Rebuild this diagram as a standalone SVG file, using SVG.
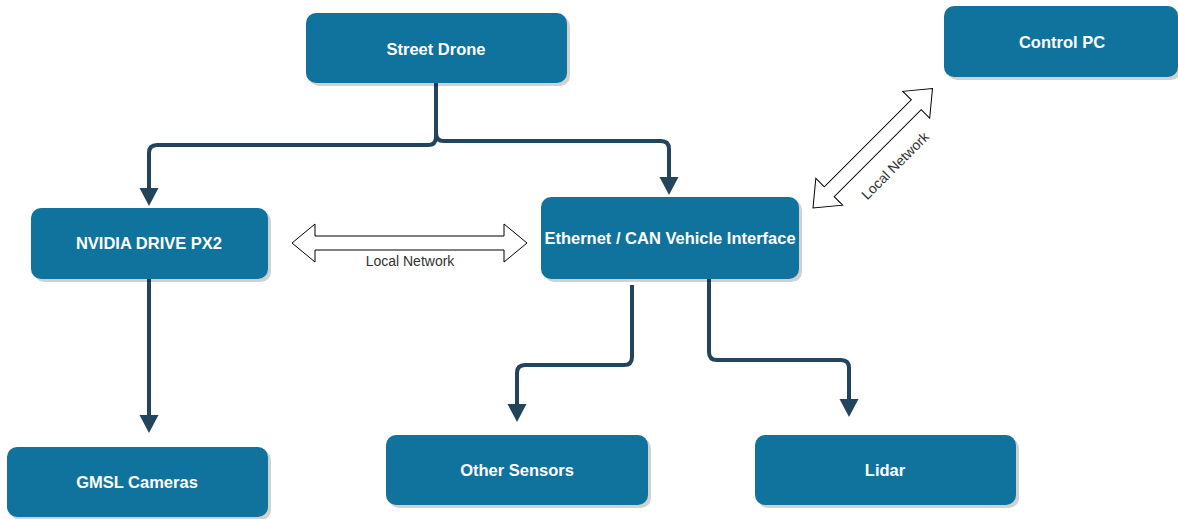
<svg xmlns="http://www.w3.org/2000/svg" width="1178" height="519" viewBox="0 0 1178 519">
<style>
.box{fill:#10739e;}
.shadow{fill:#000;opacity:0.18;}
.lbl{fill:#ffffff;font-family:"Liberation Sans",Arial,sans-serif;font-weight:bold;font-size:16.5px;text-anchor:middle;dominant-baseline:central;}
.conn{fill:none;stroke:#23445d;stroke-width:4;stroke-linejoin:round;marker-end:url(#ah);}
.dbl{fill:#ffffff;stroke:#000;stroke-width:1;}
.net{fill:#333333;font-family:"Liberation Sans",Arial,sans-serif;font-size:14px;text-anchor:middle;}
</style>
<defs>
<marker id="ah" markerUnits="userSpaceOnUse" viewBox="0 -10 18 20" markerWidth="18" markerHeight="20" refX="0" refY="0" orient="auto" overflow="visible">
<path d="M0,-9.5 L18,0 L0,9.5 Z" fill="#23445d"/>
</marker>
</defs>
<rect width="1178" height="519" fill="#ffffff"/>
<g id="connectors">
<path class="conn" d="M436,83 V137 Q436,145 428,145 H157 Q149,145 149,153 V188"/>
<path class="conn" d="M436,83 V133 Q436,141 444,141 H661 Q669,141 669,149 V177"/>
<path class="conn" d="M149,279 V415"/>
<path class="conn" d="M632,285 V357 Q632,365 624,365 H525 Q517,365 517,373 V404"/>
<path class="conn" d="M709,278 V352 Q709,360 717,360 H841 Q849,360 849,368 V399"/>
<g id="link-px2-eth" transform="translate(292,243)">
<path class="dbl" d="M0,0 L23,-19 L23,-7 L212,-7 L212,-19 L235,0 L212,19 L212,7 L23,7 L23,19 Z"/>
<text class="net" x="118" y="23">Local Network</text>
</g>
<g id="link-eth-pc" transform="translate(813,208) rotate(-45)">
<path class="dbl" d="M0,0 L23,-19 L23,-7 L146,-7 L146,-19 L169,0 L146,19 L146,7 L23,7 L23,19 Z"/>
<text class="net" x="88" y="33">Local Network</text>
</g>
</g>
<g id="street-drone">
<rect class="shadow" x="309" y="16" width="261" height="70" rx="10"/>
<rect class="box" x="306" y="13" width="261" height="70" rx="10"/>
<text class="lbl" x="436" y="49">Street Drone</text>
</g>
<g id="control-pc">
<rect class="shadow" x="947" y="9" width="234" height="71" rx="10"/>
<rect class="box" x="944" y="6" width="234" height="71" rx="10"/>
<text class="lbl" x="1062" y="42">Control PC</text>
</g>
<g id="nvidia-px2">
<rect class="shadow" x="34" y="211" width="237" height="71" rx="10"/>
<rect class="box" x="31" y="208" width="237" height="71" rx="10"/>
<text class="lbl" x="149" y="243">NVIDIA DRIVE PX2</text>
</g>
<g id="ethernet-can">
<rect class="shadow" x="544" y="200" width="258" height="82" rx="10"/>
<rect class="box" x="541" y="197" width="258" height="82" rx="10"/>
<text class="lbl" x="670" y="238">Ethernet / CAN Vehicle Interface</text>
</g>
<g id="gmsl-cameras">
<rect class="shadow" x="10" y="450" width="261" height="70" rx="10"/>
<rect class="box" x="7" y="447" width="261" height="70" rx="10"/>
<text class="lbl" x="137" y="482">GMSL Cameras</text>
</g>
<g id="other-sensors">
<rect class="shadow" x="389" y="438" width="262" height="70" rx="10"/>
<rect class="box" x="386" y="435" width="262" height="70" rx="10"/>
<text class="lbl" x="517" y="470">Other Sensors</text>
</g>
<g id="lidar">
<rect class="shadow" x="758" y="438" width="261" height="70" rx="10"/>
<rect class="box" x="755" y="435" width="261" height="70" rx="10"/>
<text class="lbl" x="885" y="470">Lidar</text>
</g>
</svg>
